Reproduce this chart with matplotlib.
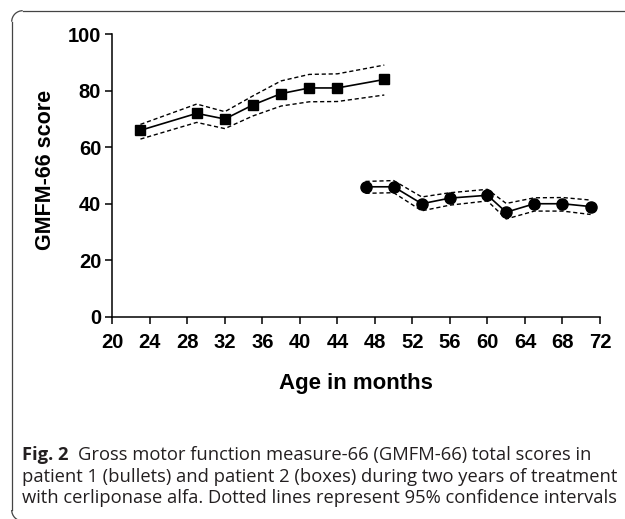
import matplotlib
matplotlib.use("Agg")
import matplotlib.pyplot as plt
from matplotlib.lines import Line2D
from matplotlib.patches import Arc

# patient 2 (boxes)
age_p2 = [23, 29, 32, 35, 38, 41, 44, 49]
score_p2 = [66, 72, 70, 75, 79, 81, 81, 84]
upper_p2 = [68.1, 75.3, 72.6, 78.2, 83.5, 85.8, 86.0, 89.1]
lower_p2 = [62.9, 68.8, 66.6, 71.1, 74.6, 76.1, 76.2, 78.5]

# patient 1 (bullets)
age_p1 = [47, 50, 53, 56, 60, 62, 65, 68, 71]
score_p1 = [46, 46, 40, 42, 43, 37, 40, 40, 39]
upper_p1 = [47.9, 48.2, 42.4, 43.9, 45.1, 40.1, 42.1, 42.2, 41.3]
lower_p1 = [43.7, 43.9, 37.5, 39.5, 41.0, 34.6, 37.4, 37.4, 36.2]

x_ticks = list(range(20, 73, 4))
y_ticks = [0, 20, 40, 60, 80, 100]

W, H = 625, 519
fig = plt.figure(figsize=(W / 100, H / 100), dpi=100)
fig.patch.set_facecolor('white')

# frame: top and left edges with rounded corners, open to the right
def fx(px):
    return px / W

def fy(py):
    return 1 - py / H

r = 11
left, top, bottom = 11.7, 10.7, 521
frame_kw = dict(color='#444444', linewidth=0.9, transform=fig.transFigure)
fig.add_artist(Line2D([fx(left + r), fx(W + 5)], [fy(top), fy(top)], **frame_kw))
fig.add_artist(Line2D([fx(left), fx(left)], [fy(top + r), fy(bottom - r)], **frame_kw))
fig.add_artist(Line2D([fx(left + r), fx(W + 5)], [fy(bottom), fy(bottom)], **frame_kw))
fig.add_artist(Arc((fx(left + r), fy(top + r)), 2 * r / W, 2 * r / H, theta1=90, theta2=180, **frame_kw))
fig.add_artist(Arc((fx(left + r), fy(bottom - r)), 2 * r / W, 2 * r / H, theta1=180, theta2=270, **frame_kw))

ax = fig.add_axes([112.3 / W, 1 - 316.7 / H, 487.7 / W, 282.4 / H])

dash = (0, (3, 2))
ax.plot(age_p2, upper_p2, color='black', lw=1.0, linestyle=dash)
ax.plot(age_p2, lower_p2, color='black', lw=1.0, linestyle=dash)
ax.plot(age_p2, score_p2, color='black', lw=1.2, marker='s', ms=7.5)

ax.plot(age_p1, upper_p1, color='black', lw=1.0, linestyle=dash)
ax.plot(age_p1, lower_p1, color='black', lw=1.0, linestyle=dash)
ax.plot(age_p1, score_p1, color='black', lw=1.2, marker='o', ms=8)

ax.set_xlim(20, 72)
ax.set_ylim(0, 100)
ax.set_xticks(x_ticks)
ax.set_yticks(y_ticks)

tick_font = dict(family='Liberation Sans', weight='bold', size=14.5)
ax.set_xticklabels([str(t) for t in x_ticks], fontdict=tick_font)
ax.set_yticklabels([str(t) for t in y_ticks], fontdict=tick_font)

for s in ['top', 'right']:
    ax.spines[s].set_visible(False)
for s in ['left', 'bottom']:
    ax.spines[s].set_linewidth(1.1)
ax.tick_params(direction='out', length=5, width=1.1)
ax.tick_params(axis='x', pad=7)
ax.tick_params(axis='y', pad=3)

fig.text(45.5 / W, 1 - 170 / H, 'GMFM-66 score', rotation=90, ha='center', va='center',
         family='Liberation Sans', weight='bold', size=15.5)
fig.text(356 / W, 1 - 384 / H, 'Age in months', ha='center', va='center',
         family='Liberation Sans', weight='bold', size=16)

cap_font = 'Open Sans'
cap_size = 13.2
fig_lbl = fig.text(22 / W, 1 - 460 / H, 'Fig. 2', ha='left', va='baseline',
                   family=cap_font, weight='bold', size=cap_size, color='#231f20')
fig.canvas.draw()
bb = fig_lbl.get_window_extent()
fig.text((bb.x1 + 9) / W, 1 - 460 / H,
         'Gross motor function measure-66 (GMFM-66) total scores in',
         ha='left', va='baseline', family=cap_font, size=cap_size, color='#231f20')
fig.text(22 / W, 1 - 481.5 / H,
         'patient 1 (bullets) and patient 2 (boxes) during two years of treatment',
         ha='left', va='baseline', family=cap_font, size=cap_size, color='#231f20')
fig.text(22 / W, 1 - 503 / H,
         'with cerliponase alfa. Dotted lines represent 95% confidence intervals',
         ha='left', va='baseline', family=cap_font, size=cap_size, color='#231f20')

fig.savefig('out.png', dpi=100)
